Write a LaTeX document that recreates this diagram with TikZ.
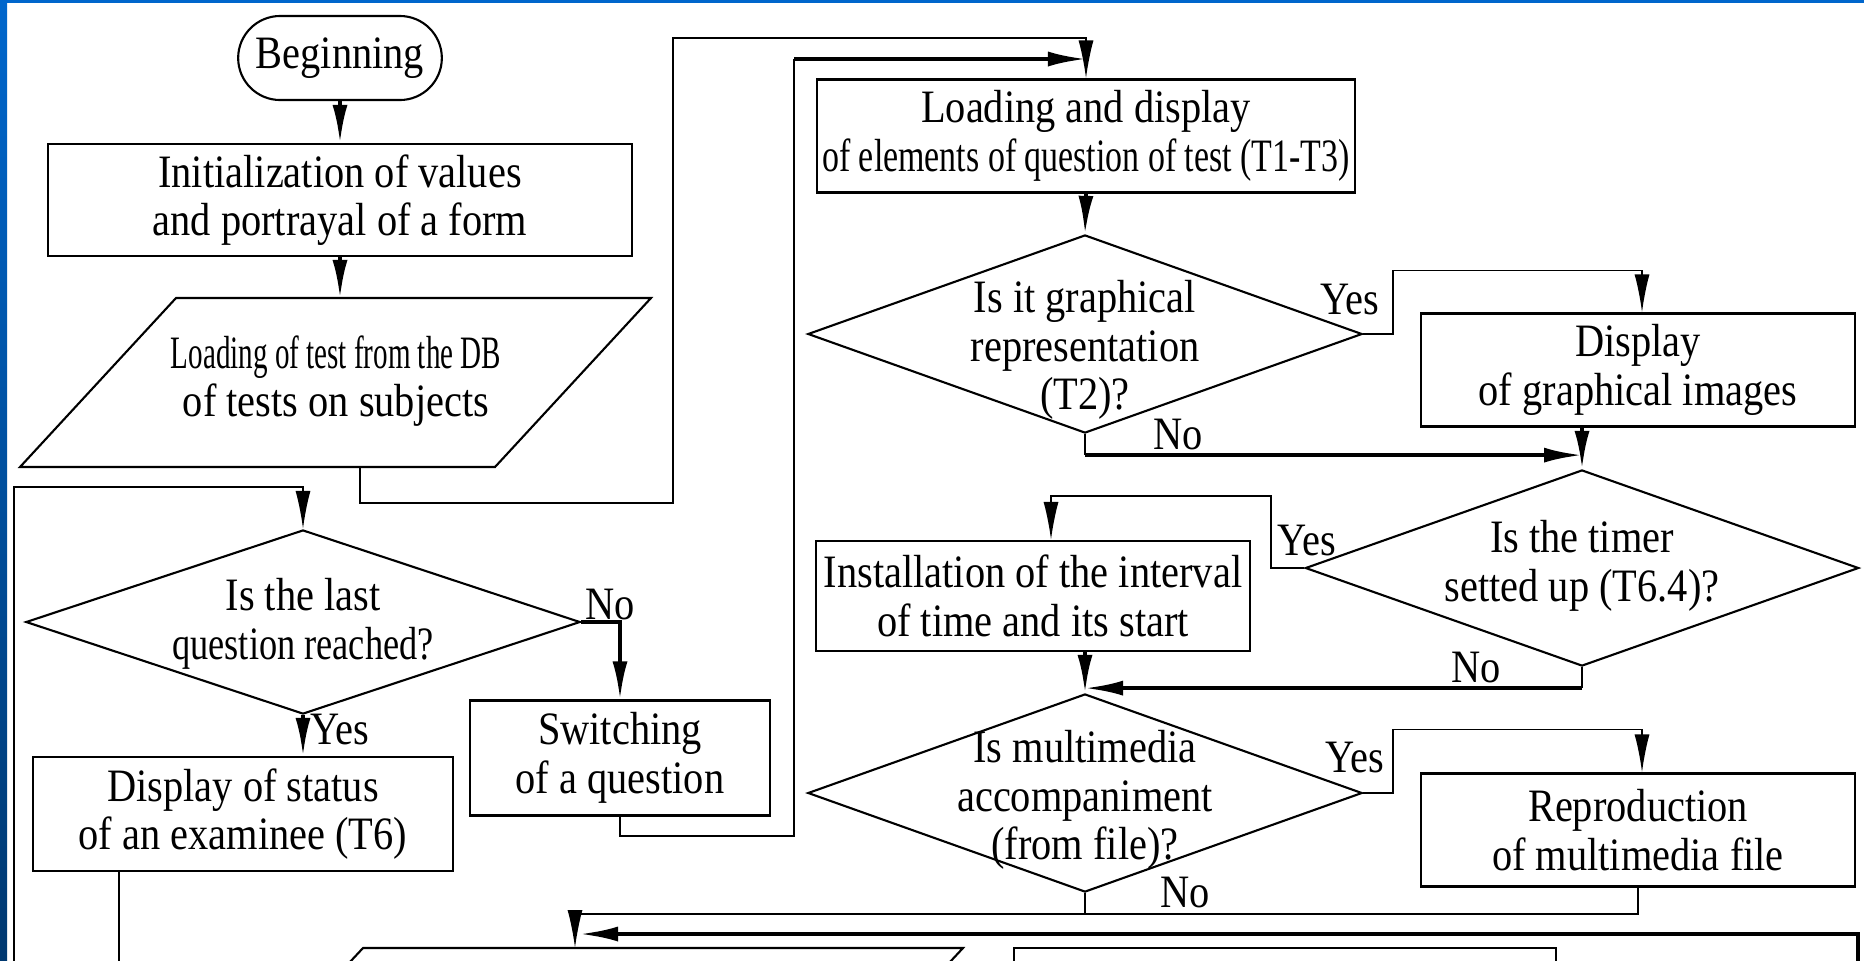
\documentclass[tikz,border=0pt]{standalone}
\usepackage{graphicx}
\usepackage{fontspec}
\setmainfont{Liberation Serif}[FakeStretch=0.87]
\usetikzlibrary{shapes.geometric,shapes.misc,positioning,arrows.meta,calc}
\definecolor{framehi}{RGB}{0,102,204}
\definecolor{framelo}{RGB}{0,56,112}
\newcommand{\tight}[2][0.84]{\scalebox{#1}[1]{#2}}

\begin{document}
\begin{tikzpicture}[x=0.01cm, y=-0.01cm, font=\fontsize{13.2}{13.8}\selectfont,
    box/.style={rectangle, draw, line width=0.6pt, inner sep=0pt, align=center},
    dec/.style={diamond, draw, line width=0.6pt, inner sep=0pt},
    txt/.style={align=center, inner sep=0pt},
    ans/.style={inner sep=0pt},
    line/.style={line width=0.5pt},
    tline/.style={line width=1.1pt},
    arr/.style={-{Latex[length=3.8mm, width=1.5mm]}},
]
\useasboundingbox (0,0) rectangle (1864,960);
\clip (0,0) rectangle (1864,960);

% slide frame
\fill[white] (0,0) rectangle (1864,960);
\shade[top color=framehi, bottom color=framelo] (0,0) rectangle (7,960);
\fill[framehi] (0,0) rectangle (1864,3);

% Left column
\node[rounded rectangle, draw, line width=0.6pt, minimum width=2.27cm, minimum height=0.84cm] (begin) at (340,58) {Beginning};
\node[box, minimum width=5.83cm, minimum height=1.12cm] (init) at (340,200) {Initialization of values\\and portrayal of a form};

% Input from the DB
\draw[line width=0.6pt] (176,298) -- (651,298) -- (495,467) -- (20,467) -- cycle;
\node[txt] (ldb) at (336,381) {\tight[0.72]{Loading of test from the DB}\\of tests on subjects};
\coordinate (ldbin) at (340,298);
\coordinate (ldbout) at (360,467);

\node[dec, minimum width=5.54cm, minimum height=1.84cm] (last) at (303,622) {};
\node[txt] (lastt) at (303,624) {Is the last\\\tight[0.9]{question reached?}};
\node[box, minimum width=2.99cm, minimum height=1.15cm] (switch) at (620,758) {Switching\\of a question};
\node[box, minimum width=4.2cm, minimum height=1.14cm] (status) at (243,814) {Display of status\\of an examinee (T6)};

% Right part
\node[box, minimum width=5.38cm, minimum height=1.13cm] (load) at (1086,136) {Loading and display\\\tight{of elements of question of test (T1-T3)}};
\node[dec, minimum width=5.54cm, minimum height=1.98cm] (graph) at (1085,334) {};
\node[txt] (grapht) at (1085,350) {Is it graphical\\representation\\(T2)?};
\node[box, minimum width=4.34cm, minimum height=1.13cm] (image) at (1638,370) {Display\\of graphical images};
\node[dec, minimum width=5.53cm, minimum height=1.96cm] (timer) at (1582,568) {};
\node[txt] (timert) at (1582,566) {Is the timer\\setted up (T6.4)?};
\node[box, minimum width=4.34cm, minimum height=1.1cm] (interval) at (1033,596) {Installation of the interval\\of time and its start};
\node[dec, minimum width=5.54cm, minimum height=1.98cm] (media) at (1085,793) {};
\node[txt] (mediat) at (1085,800) {Is multimedia\\accompaniment\\(from file)?};
\node[box, minimum width=4.34cm, minimum height=1.13cm] (play) at (1638,830) {Reproduction\\of multimedia file};

% Next blocks (cut off by the slide)
\draw[line width=0.6pt] (335,978) -- (363,948) -- (963,948) -- (935,978);
\coordinate (nextin) at (575,948);
\node[box, minimum width=5.42cm, minimum height=1.1cm] (next) at (1285,1003) {};

% Loops back to the question
\coordinate (loopA) at (673,38);
\coordinate (loopB) at (794,59);
\coordinate (loopC) at (14,487);
\coordinate (loopCin) at (14,990);
\coordinate (loopD) at (1858,990);

\draw[tline, arr] (begin.south) -- (init.north);
\draw[tline, arr] (init.south) -- (ldbin);
\draw[line, arr] (ldbout) |- (673,503) -- (loopA) -| (load.north);
\draw[line] (switch.south) |- (794,836) -- (loopB);
\draw[tline, arr] (loopB) -- (loopB -| load.north);
\draw[line, arr] (loopCin) -- (loopC) -| (last.north);
\draw[line] ([xshift=-1.24cm]status.south) -- ++(0,140);

\draw[tline, arr] (last.east) -| (switch.north);
\draw[tline, arr] (last.south) -- (last.south |- status.north);
\node[ans] (nolast) at (610,605) {No};
\node[ans] (yeslast) at (340,730) {Yes};

% Graphics
\draw[tline, arr] (load.south) -- (graph.north);
\draw[line, arr] (graph.east) -- ++(30,0) |- ($(image.north)+(4,-42)$) -- ($(image.north)+(4,0)$);
\draw[line] (graph.south) -- ++(0,21) coordinate (gno);
\draw[tline, arr] (gno) -- (gno -| timer.north);
\node[ans] (yesgraph) at (1350,300) {Yes};
\node[ans] (nograph) at (1178,435) {No};

% Timer
\draw[tline, arr] (timer.north |- image.south) -- (timer.north);
\draw[line, arr] (timer.west) -- ++(-33,0) |- ($(interval.north)+(18,-44)$) -- ($(interval.north)+(18,0)$);
\draw[line] (timer.south) -- ++(0,21) coordinate (tno);
\draw[tline, arr] (tno) -- (tno -| media.north);
\draw[tline, arr] (media.north |- interval.south) -- (media.north);
\node[ans] (yestimer) at (1307,541) {Yes};
\node[ans] (notimer) at (1476,668) {No};

% Multimedia
\draw[line, arr] (media.east) -- ++(30,0) |- ($(play.north)+(4,-43)$) -- ($(play.north)+(4,0)$);
\draw[line] (media.south) -- ++(0,21) coordinate (mno);
\draw[line, arr] (play.south) |- (mno) -| (nextin);
\draw[tline, arr] (loopD) |- ($(nextin)+(5,-14)$);
\node[ans] (yesmedia) at (1355,758) {Yes};
\node[ans] (nomedia) at (1185,893) {No};

\end{tikzpicture}
\end{document}
